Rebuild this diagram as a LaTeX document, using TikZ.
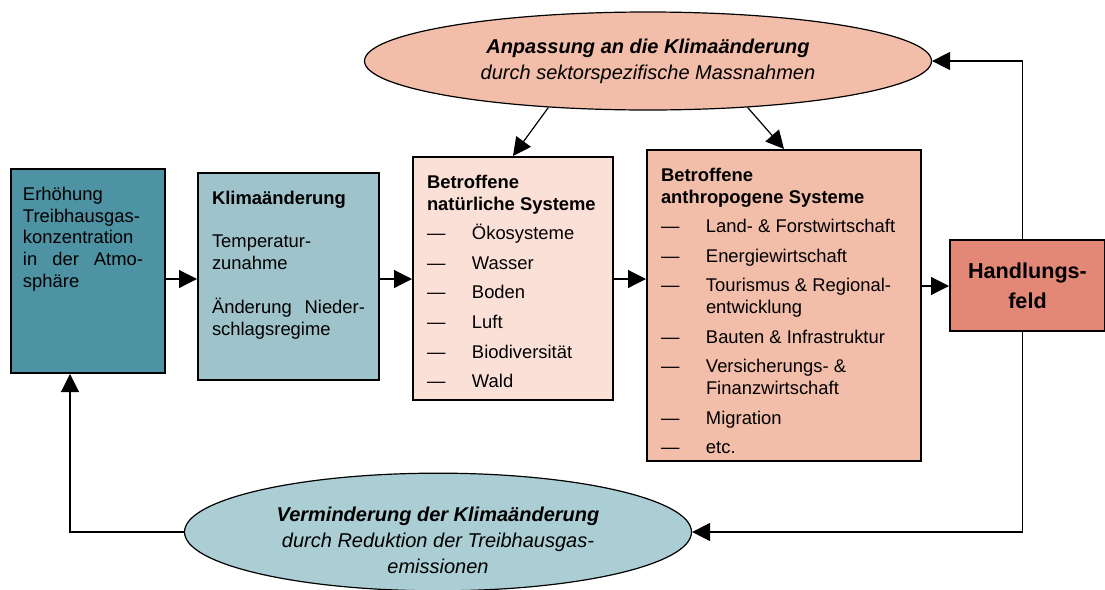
\documentclass[tikz,border=0pt]{standalone}
\usepackage{fontspec}
\setmainfont{Liberation Sans}
\usetikzlibrary{arrows.meta,shapes.geometric}
\definecolor{tealdark}{RGB}{78,147,163}
\definecolor{teallight}{RGB}{158,195,203}
\definecolor{tealpale}{RGB}{170,206,212}
\definecolor{rosepale}{RGB}{251,224,215}
\definecolor{rosemid}{RGB}{242,189,169}
\definecolor{rosedark}{RGB}{227,136,119}

\newcommand{\kasten}[3]{\begin{minipage}[t][#2][t]{#1}\setlength{\parskip}{3.9pt}#3\end{minipage}}
\newcommand{\punkt}[1]{\par\noindent\hangindent=22.5pt\hangafter=1\makebox[22.5pt][l]{\textemdash}#1}

\tikzset{
  sysbox/.style={draw,line width=1pt,anchor=north west,inner xsep=7pt,inner ysep=9pt},
  oval/.style={ellipse,draw,line width=0.6pt,inner sep=0pt,align=center,font=\fontsize{10}{13}\selectfont\itshape},
  pfeil/.style={-{Triangle[length=9pt,width=9pt]},line width=0.6pt}
}

\begin{document}
\begin{tikzpicture}[x=0.5pt,y=-0.5pt, every node/.style={font=\fontsize{9.2}{10.9}\selectfont}]
  \useasboundingbox (0,0) rectangle (1105,590);
  \node[sysbox,fill=tealdark,inner xsep=6pt] (ghg) at (10,168) {\kasten{65pt}{84pt}{Erhöhung\\Treibhausgas-\\konzentration\\\makebox[60pt][s]{in der Atmo-}\\sphäre}};
  \node[sysbox,fill=teallight] (klima) at (197,172) {\kasten{76.5pt}{85.5pt}{\textbf{Klimaänderung}\\[10.9pt]Temperatur-\\zunahme\\[10.9pt]\makebox[\linewidth][s]{Änderung Nieder-}\\schlagsregime}};
  \node[sysbox,fill=rosepale] (natur) at (412,156) {\kasten{86pt}{103.5pt}{\textbf{Betroffene\\natürliche Systeme}\punkt{Ökosysteme}\punkt{Wasser}\punkt{Boden}\punkt{Luft}\punkt{Biodiversität}\punkt{Wald}}};
  \node[sysbox,fill=rosemid] (anthro) at (646,149) {\kasten{123pt}{137.5pt}{\textbf{Betroffene\\anthropogene Systeme}\punkt{Land- \& Forstwirtschaft}\punkt{Energiewirtschaft}\punkt{Tourismus \& Regional-\\entwicklung}\punkt{Bauten \& Infrastruktur}\punkt{Versicherungs- \&\\Finanzwirtschaft}\punkt{Migration}\punkt{etc.}}};
  \node[sysbox,fill=rosedark,minimum width=77.5pt,minimum height=45.5pt,align=center,font=\bfseries\fontsize{10.8}{15}\selectfont] (feld) at (949,239) {Handlungs-\\feld};
  \node[oval,fill=rosemid,minimum width=283.5pt,minimum height=49pt] (anpass) at (648,61) {\textbf{Anpassung an die Klimaänderung}\\durch sektorspezifische Massnahmen};
  \node[oval,fill=tealpale,minimum width=253.5pt,minimum height=56pt] (vermind) at (438,532) {\rule{0pt}{15.5pt}\textbf{Verminderung der Klimaänderung}\\durch Reduktion der Treibhausgas-\\emissionen};
  \coordinate (reihe) at (0,279);
  \coordinate (reihe2) at (0,286);
  \foreach \a/\b in {ghg/klima,klima/natur,natur/anthro}{\draw[pfeil] (\a.east |- reihe) -- (\b.west |- reihe);}
  \draw[pfeil] (anthro.east |- reihe2) -- (feld.west |- reihe2);
  \draw[pfeil] (anpass.205) -- (natur.north);
  \draw[pfeil] (anpass.335) -- (anthro.north);
  \draw[pfeil] ([xshift=-2.5pt]feld.north) |- (anpass.east);
  \draw[pfeil] ([xshift=-2.5pt]feld.south) |- (vermind.east);
  \draw[pfeil] (vermind.west) -| ([xshift=-9pt]ghg.south);
\end{tikzpicture}
\end{document}
